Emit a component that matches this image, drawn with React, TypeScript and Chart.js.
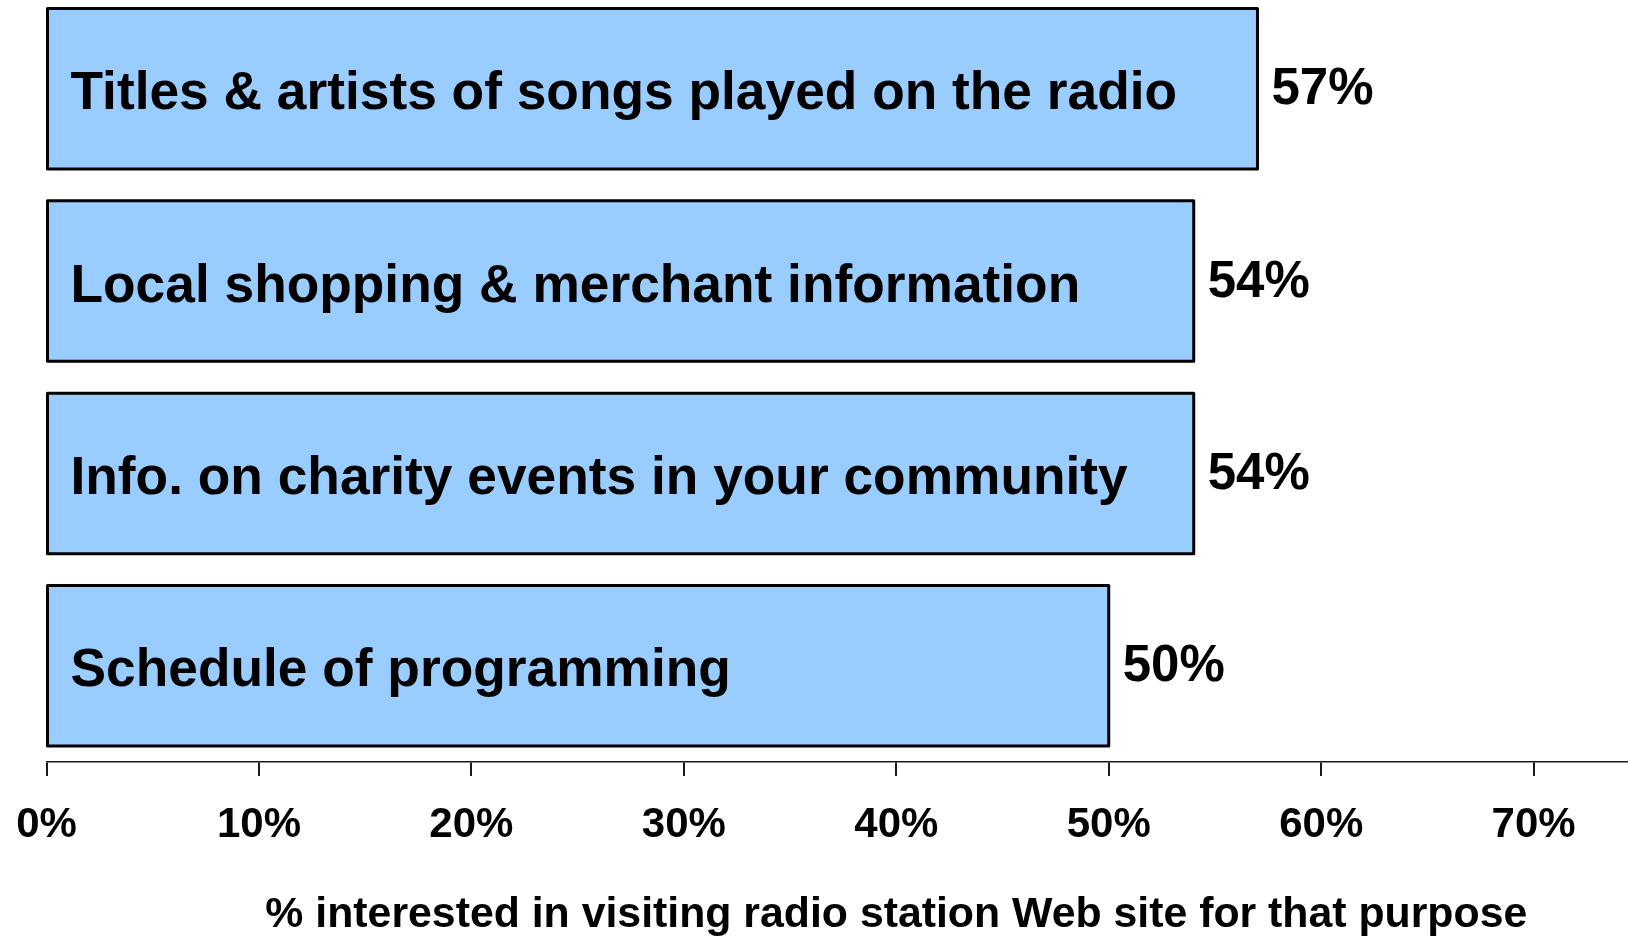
import React, { useEffect, useRef } from "react";
import { Chart, registerables } from "chart.js";

Chart.register(...registerables);

const categories = [
  "Titles & artists of songs played on the radio",
  "Local shopping & merchant information",
  "Info. on charity events in your community",
  "Schedule of programming",
];
const values = [57, 54, 54, 50];
const xTickValues = [0, 10, 20, 30, 40, 50, 60, 70, 80];
const xTitle = "% interested in visiting radio station Web site for that purpose";

const FONT = "'Liberation Sans', Arial, Helvetica, sans-serif";

const labelPlugin = {
  id: "barLabels",
  afterDatasetsDraw(chart: any) {
    const ctx = chart.ctx;
    const meta = chart.getDatasetMeta(0);
    ctx.save();
    meta.data.forEach((bar: any, i: number) => {
      const cy = bar.y;
      // outline centred on the bar bounds
      ctx.strokeStyle = "#000";
      ctx.lineWidth = 3;
      ctx.lineJoin = "round";
      ctx.strokeRect(bar.base, cy - bar.height / 2, bar.x - bar.base, bar.height);

      ctx.fillStyle = "#000";
      ctx.textAlign = "left";
      ctx.textBaseline = "alphabetic";
      ctx.font = `bold 53.3px ${FONT}`;
      ctx.fillText(categories[i], chart.chartArea.left + 24, cy + 20.6);
      ctx.font = `bold 51px ${FONT}`;
      ctx.fillText(`${values[i]}%`, bar.x + 14, cy + 15.6);
    });
    ctx.restore();
  },
};

export default function App() {
  const ref = useRef<HTMLCanvasElement>(null);
  useEffect(() => {
    if (!ref.current) return;
    const chart = new Chart(ref.current, {
      type: "bar",
      data: {
        labels: categories,
        datasets: [
          {
            data: values,
            backgroundColor: "#99CCFF",
            borderWidth: 0,
            barPercentage: 0.834,
            categoryPercentage: 1,
          },
        ],
      },
      options: {
        indexAxis: "y",
        animation: false,
        responsive: true,
        maintainAspectRatio: false,
        layout: { padding: { left: 46.5, right: 43.9, top: 0.5, bottom: 6.4 } },
        plugins: {
          legend: { display: false },
          tooltip: { enabled: false },
        },
        scales: {
          y: { display: false },
          x: {
            min: 0,
            max: 80,
            afterBuildTicks: (scale: any) => {
              scale.ticks = xTickValues.map((v) => ({ value: v }));
            },
            grid: {
              drawOnChartArea: false,
              drawTicks: true,
              tickLength: 14,
              color: "#1a1a1a",
              lineWidth: 2,
            },
            border: { display: true, color: "#1a1a1a", width: 1.5 },
            ticks: {
              padding: 12,
              color: "#000",
              font: { family: FONT, size: 42, weight: "bold", lineHeight: 1.762 },
              maxRotation: 0,
              autoSkip: false,
              callback: (v: any) => (Number(v) === 80 ? "" : `${v}%`),
            },
            title: {
              display: true,
              text: xTitle,
              color: "#000",
              font: { family: FONT, size: 42.8, weight: "bold" },
              padding: { top: 15.2, bottom: 0 },
            },
          },
        },
      },
      plugins: [labelPlugin],
    } as any);
    return () => chart.destroy();
  }, []);
  return (
    <div
      style={{
        position: "fixed",
        left: 0,
        top: 0,
        width: 1628,
        height: 937,
        overflow: "hidden",
        background: "#fff",
      }}
    >
      <div style={{ position: "absolute", left: 0, top: -8, width: 1790, height: 955 }}>
        <canvas ref={ref} />
      </div>
    </div>
  );
}
